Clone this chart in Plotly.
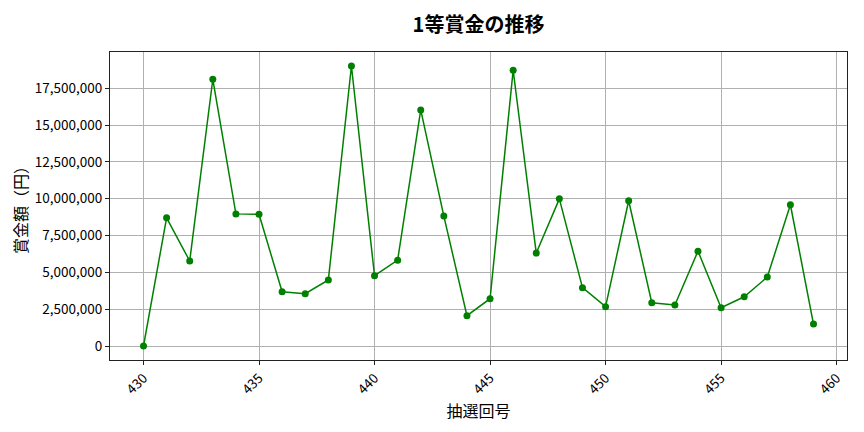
import plotly.graph_objects as go

# ── Data ──────────────────────────────────────────────────────────────────────
draw_numbers = list(range(430, 460))
prize_yen = [
    0, 8700000, 5770000, 18110000, 8970000, 8940000, 3680000, 3550000,
    4480000, 19010000, 4770000, 5830000, 16030000, 8820000, 2060000,
    3210000, 18720000, 6310000, 9990000, 3960000, 2670000, 9860000,
    2940000, 2780000, 6440000, 2600000, 3340000, 4680000, 9590000, 1490000,
]
y_ticks = [0, 2500000, 5000000, 7500000, 10000000, 12500000, 15000000, 17500000]
x_ticks = [430, 435, 440, 445, 450, 455, 460]

FONT = "Noto Sans CJK JP"
GREEN = "#008000"

# page body has an 8px margin, so the figure is drawn 8px smaller
W, H = 856, 424

fig = go.Figure()
fig.add_trace(go.Scatter(
    x=draw_numbers, y=prize_yen, mode="lines+markers",
    line=dict(color=GREEN, width=1.5),
    marker=dict(color=GREEN, size=7),
    showlegend=False,
))

# matplotlib-like 5% padding
x_pad = (max(draw_numbers) - min(draw_numbers)) * 0.05
y_pad = (max(prize_yen) - min(prize_yen)) * 0.05

fig.update_layout(
    title=dict(text="<b>1等賞金の推移</b>", x=0.5, xref="paper", xanchor="center",
               y=1 - 17 / H, yanchor="middle", font=dict(size=20, color="#000")),
    font=dict(family=FONT, color="#000", size=13.5),
    plot_bgcolor="white", paper_bgcolor="white",
    width=W, height=H,
    margin=dict(l=102, r=17, t=44, b=72),
)
fig.update_xaxes(
    range=[min(draw_numbers) - x_pad, max(draw_numbers) + x_pad],
    tickvals=x_ticks, tickangle=-45, automargin=False,
    showgrid=True, gridcolor="#b0b0b0", gridwidth=1,
    showline=True, linecolor="#222", linewidth=1, mirror=True,
    ticks="outside", ticklen=4, tickcolor="#222", zeroline=False,
    title=dict(text="抽選回号", font=dict(size=16), standoff=6),
)
fig.update_yaxes(
    range=[min(prize_yen) - y_pad, max(prize_yen) + y_pad],
    tickvals=y_ticks, tickformat=",d", automargin=False,
    showgrid=True, gridcolor="#b0b0b0", gridwidth=1,
    showline=True, linecolor="#222", linewidth=1, mirror=True,
    ticks="outside", ticklen=4, tickcolor="#222", zeroline=False,
    title=dict(text="賞金額（円）", font=dict(size=16), standoff=10),
)

fig.write_html("out.html")
